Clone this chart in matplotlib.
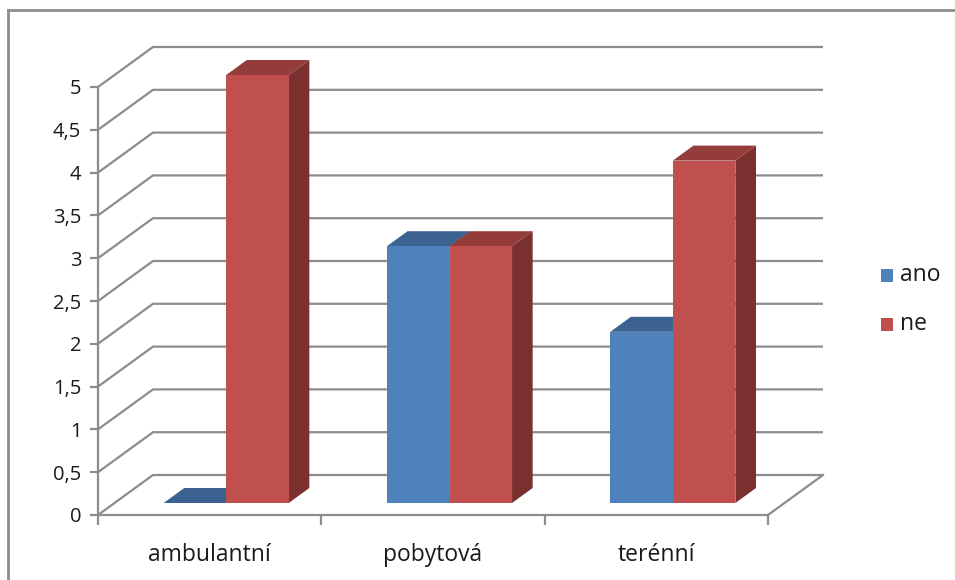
import matplotlib
matplotlib.use("Agg")
import matplotlib.pyplot as plt
from matplotlib.patches import Polygon, Rectangle
from matplotlib.lines import Line2D

categories = ["ambulantní", "pobytová", "terénní"]
series_names = ["ano", "ne"]
ano_values = [0, 3, 2]
ne_values = [5, 3, 4]
y_ticks = [0, 0.5, 1, 1.5, 2, 2.5, 3, 3.5, 4, 4.5, 5]
y_tick_labels = ["0", "0,5", "1", "1,5", "2", "2,5", "3", "3,5", "4", "4,5", "5"]

front_colors = ["#4F81BD", "#C0504D"]
top_colors = ["#3B6291", "#943C3A"]
side_colors = ["#2F4F75", "#7A302E"]
grid_color = "#8C8C8C"
text_color = "#1a1a1a"

FONT = ["Open Sans", "DejaVu Sans"]
plt.rcParams["font.family"] = FONT
FS_TICK = 14.5
FS_CAT = 16.5

fig = plt.figure(figsize=(9.55, 5.8), dpi=100)
W, H = 955, 580

# front plane of the 3D box (pixel placement converted to figure fractions)
x0_px, x1_px, y0_px, y1_px = 98, 768, 515, 87
ax = fig.add_axes([x0_px / W, 1 - y0_px / H, (x1_px - x0_px) / W, (y0_px - y1_px) / H])
ymax = y_ticks[-1]
ncat = len(categories)
ax.set_xlim(0, ncat)
ax.set_ylim(0, ymax)

# depth offset of the back wall, in data units
depth_dx = 55 / ((x1_px - x0_px) / ncat)
depth_dy = 40 / ((y0_px - y1_px) / ymax)


def proj(x, v, d):
    """Front-plane coordinates of a point at category x, value v, depth fraction d."""
    return (x + d * depth_dx, v + d * depth_dy)


# side wall and back wall gridlines
for v in y_ticks:
    pts = [proj(0, v, 0), proj(0, v, 1), proj(ncat, v, 1)]
    ax.add_line(Line2D([p[0] for p in pts], [p[1] for p in pts], color=grid_color,
                       lw=1.6, clip_on=False, zorder=1, solid_capstyle="butt"))
# right edge of the floor
pts = [proj(ncat, 0, 0), proj(ncat, 0, 1)]
ax.add_line(Line2D([p[0] for p in pts], [p[1] for p in pts], color=grid_color,
                   lw=1.6, clip_on=False, zorder=1))

# bars
bar_w = 0.28
d_front, d_back = 0.30, 0.675
series_values = [ano_values, ne_values]
for i, cat in enumerate(categories):
    c = i + 0.5
    for s, vals in enumerate(series_values):
        v = vals[i]
        xl = c - bar_w if s == 0 else c
        xr = xl + bar_w
        z = 3 + i * 2 + s
        # right side face
        side = [proj(xr, 0, d_front), proj(xr, 0, d_back), proj(xr, v, d_back), proj(xr, v, d_front)]
        ax.add_patch(Polygon(side, closed=True, facecolor=side_colors[s], edgecolor="none",
                             clip_on=False, zorder=z))
        # top face
        top = [proj(xl, v, d_front), proj(xr, v, d_front), proj(xr, v, d_back), proj(xl, v, d_back)]
        ax.add_patch(Polygon(top, closed=True, facecolor=top_colors[s], edgecolor="none",
                             clip_on=False, zorder=z))
        # front face
        fx, fy = proj(xl, 0, d_front)
        ax.add_patch(Rectangle((fx, fy), bar_w, v, facecolor=front_colors[s], edgecolor="none",
                               clip_on=False, zorder=z))

# axes: only the front-left vertical and front floor edge
for name in ["top", "right"]:
    ax.spines[name].set_visible(False)
for name in ["left", "bottom"]:
    ax.spines[name].set_color(grid_color)
    ax.spines[name].set_linewidth(1.6)
ax.set_yticks(y_ticks)
ax.set_yticklabels(y_tick_labels)
ax.tick_params(axis="y", direction="out", length=6, width=1.6, color=grid_color,
               labelsize=FS_TICK, labelcolor=text_color, pad=6)
ax.set_xticks(range(ncat + 1))
ax.set_xticklabels([""] * (ncat + 1))
ax.tick_params(axis="x", which="major", direction="out", length=7, width=1.6, color=grid_color)
ax.set_xticks([i + 0.5 for i in range(ncat)], minor=True)
ax.set_xticklabels(categories, minor=True)
ax.tick_params(axis="x", which="minor", length=0, labelsize=FS_CAT, labelcolor=text_color, pad=20)
ax.patch.set_visible(False)

# legend
for s, name in enumerate(series_names):
    ly = 1 - (275 + 49 * s) / H
    fig.patches.append(Rectangle((881 / W, ly - 6.5 / H), 12 / W, 13 / H, transform=fig.transFigure,
                                 facecolor=front_colors[s], edgecolor="none"))
    fig.text(900 / W, ly, name, fontsize=FS_CAT, color=text_color, va="center", ha="left")

# chart area border
fig.add_artist(Line2D([8 / W, 1], [1 - 10 / H, 1 - 10 / H], transform=fig.transFigure,
                      color="#8C8C8C", lw=2))
fig.add_artist(Line2D([8 / W, 8 / W], [1 - 10 / H, 0], transform=fig.transFigure,
                      color="#8C8C8C", lw=2))

fig.savefig("out.png", dpi=100)
